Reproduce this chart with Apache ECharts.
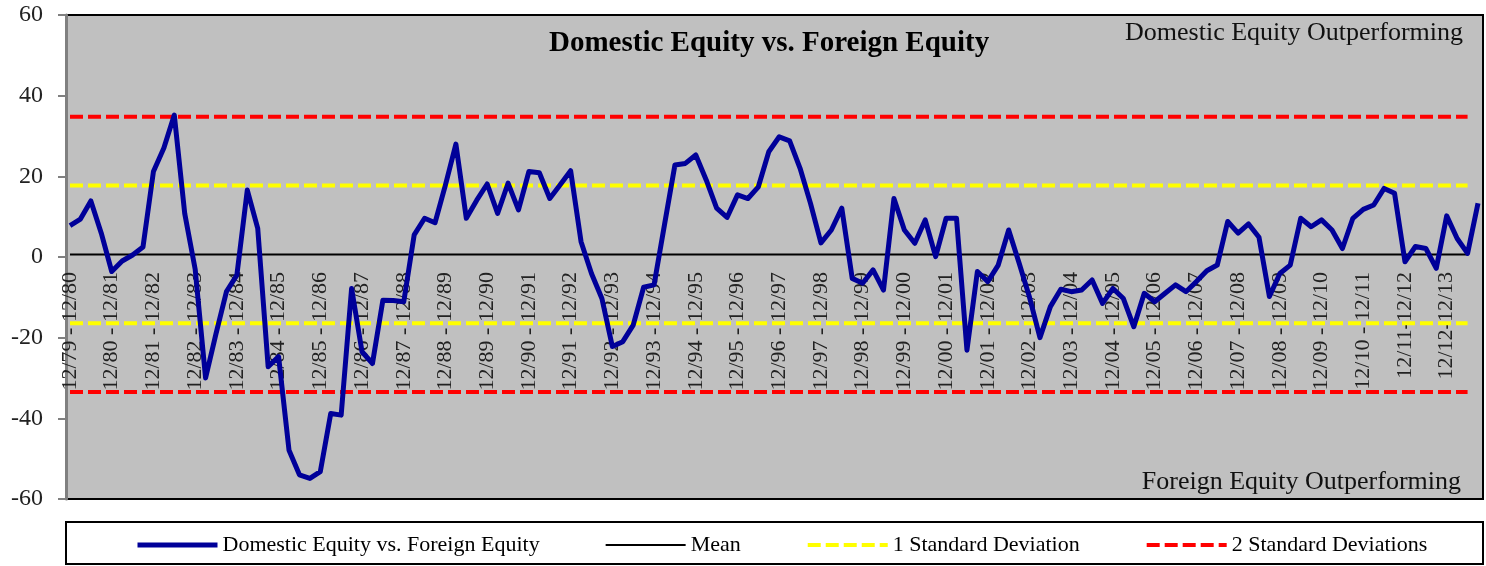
<!DOCTYPE html>
<html>
<head>
<meta charset="utf-8">
<script src="https://cdn.jsdelivr.net/npm/echarts@6/dist/echarts.min.js"></script>
<style>
  html, body { margin: 0; padding: 0; background: #fff; }
  #chart { width: 1486px; height: 566px; }
</style>
</head>
<body>
<div id="chart"></div>
<script>
  // rolling 12-month periods, one label per year (4 quarterly points each)
  const periodLabels = [
    '12/79 - 12/80', '12/80 - 12/81', '12/81 - 12/82', '12/82 - 12/83', '12/83 - 12/84',
    '12/84 - 12/85', '12/85 - 12/86', '12/86 - 12/87', '12/87 - 12/88', '12/88 - 12/89',
    '12/89 - 12/90', '12/90 - 12/91', '12/91 - 12/92', '12/92 - 12/93', '12/93 - 12/94',
    '12/94 - 12/95', '12/95 - 12/96', '12/96 - 12/97', '12/97 - 12/98', '12/98 - 12/99',
    '12/99 - 12/00', '12/00 - 12/01', '12/01 - 12/02', '12/02 - 12/03', '12/03 - 12/04',
    '12/04 - 12/05', '12/05 - 12/06', '12/06 - 12/07', '12/07 - 12/08', '12/08 - 12/09',
    '12/09 - 12/10', '12/10 - 12/11', '12/11-12/12', '12/12-12/13'
  ]

  // domestic minus foreign equity return, quarterly
  const relativeReturn = [
    7.8, 9.4, 13.9, 5.9, -3.6, -1, 0.5, 2.5, 21.2, 27,
    35.2, 10.8, -3, -30, -19, -8.6, -4.5, 16.6, 7.1, -27.2,
    -24.7, -47.9, -54, -54.9, -53.2, -38.8, -39.2, -7.8, -23.5, -26.4,
    -10.7, -10.8, -11.1, 5.5, 9.6, 8.5, 17.9, 28, 9.6, 14.1,
    18.1, 10.8, 18.3, 11.7, 21.2, 20.9, 14.5, 17.9, 21.4, 3.8,
    -4.1, -10.3, -22.2, -21, -16.9, -7.5, -6.9, 8, 22.8, 23.2,
    25.3, 19.1, 12.1, 9.8, 15.4, 14.5, 17.4, 26.1, 29.8, 28.8,
    22, 13.3, 3.5, 6.7, 12.1, -5.3, -6.5, -3.2, -8.2, 14.5,
    6.7, 3.4, 9.2, 0.1, 9.6, 9.6, -23.1, -3.6, -6.1, -2,
    6.7, -1.5, -10, -20, -12.3, -8, -8.6, -8.2, -5.7, -11.5,
    -7.8, -10.3, -17.3, -9, -11.1, -9, -6.9, -8.6, -6.1, -3.4,
    -2, 8.8, 5.9, 8.2, 4.9, -9.8, -4.1, -2, 9.6, 7.5,
    9.2, 6.7, 2.1, 9.6, 11.8, 12.9, 17, 15.8, -1.2, 2.6,
    2.1, -2.8, 10.2, 4.6, 0.9, 13.3
  ]

  // reference levels
  const meanLevel = 0.65
  const sd1Levels = [17.7, -16.4]
  const sd2Levels = [34.75, -33.45]
  const yTicks = { min: -60, max: 60, interval: 20 }

  const categories = periodLabels.flatMap((p) => [p, p + ' Q2', p + ' Q3', p + ' Q4'])
  // reference lines stop one quarter short of the last point
  const refCats = categories.slice(0, categories.length - 1)
  const flat = (v) => refCats.map(() => v)

  const serif = 'Liberation Serif'
  const chart = echarts.init(document.getElementById('chart'))

  const dashed = (name, color, v) => ({
    name: name,
    type: 'line',
    symbol: 'none',
    silent: true,
    lineStyle: { color: color, width: 4, type: [13, 5] },
    itemStyle: { color: color },
    data: flat(v),
    z: 3
  })

  const option = {
    animation: false,
    backgroundColor: '#fff',
    title: {
      text: 'Domestic Equity vs. Foreign Equity',
      left: 549,
      top: 29,
      padding: 0,
      textStyle: { fontFamily: serif, fontSize: 29, fontWeight: 'bold', color: '#000' }
    },
    graphic: [
      {
        type: 'rect',
        z: -10,
        shape: { x: 66, y: 15, width: 1417, height: 484 },
        style: { fill: '#C0C0C0', stroke: '#000', lineWidth: 2 }
      },
      {
        type: 'rect',
        z: -10,
        shape: { x: 66, y: 522, width: 1417, height: 42 },
        style: { fill: '#fff', stroke: '#000', lineWidth: 2 }
      },
      {
        type: 'text',
        x: 1463,
        y: 33,
        style: {
          text: 'Domestic Equity Outperforming',
          align: 'right', verticalAlign: 'middle',
          font: '26px "Liberation Serif"', fill: '#111'
        }
      },
      {
        type: 'text',
        x: 1461,
        y: 482,
        style: {
          text: 'Foreign Equity Outperforming',
          align: 'right', verticalAlign: 'middle',
          font: '26px "Liberation Serif"', fill: '#111'
        }
      }
    ],
    legend: {
      left: 130,
      top: 529,
      itemWidth: 80,
      itemHeight: 14,
      itemGap: 65,
      data: ['Domestic Equity vs. Foreign Equity', 'Mean', '1 Standard Deviation', '2 Standard Deviations'],
      itemStyle: { opacity: 0 },
      lineStyle: { width: 'inherit' },
      textStyle: { fontFamily: serif, fontSize: 22, color: '#000' }
    },
    grid: { left: 70, right: 8, top: 15, bottom: 67, containLabel: false, outerBoundsMode: 'none' },
    xAxis: {
      type: 'category',
      data: categories,
      boundaryGap: false,
      // labels sit just under the zero line, inside the plot
      offset: -242,
      axisLine: { show: false, onZero: false },
      axisTick: { show: false },
      axisLabel: {
        rotate: 90,
        interval: 3,
        margin: 15,
        fontFamily: serif,
        fontSize: 22,
        color: '#222'
      }
    },
    yAxis: {
      type: 'value',
      min: yTicks.min,
      max: yTicks.max,
      interval: yTicks.interval,
      offset: 4,
      axisLine: { show: true, lineStyle: { color: '#808080', width: 3 } },
      axisTick: { show: true, length: 8, lineStyle: { color: '#808080', width: 2 } },
      splitLine: { show: false },
      axisLabel: { margin: 23, fontFamily: serif, fontSize: 24, color: '#222' }
    },
    series: [
      dashed('2 Standard Deviations', '#FF0000', sd2Levels[0]),
      dashed('2 Standard Deviations', '#FF0000', sd2Levels[1]),
      dashed('1 Standard Deviation', '#FFFF00', sd1Levels[0]),
      dashed('1 Standard Deviation', '#FFFF00', sd1Levels[1]),
      {
        name: 'Mean',
        type: 'line',
        symbol: 'none',
        silent: true,
        lineStyle: { color: '#000', width: 2 },
        itemStyle: { color: '#000' },
        data: flat(meanLevel),
        z: 3
      },
      {
        name: 'Domestic Equity vs. Foreign Equity',
        type: 'line',
        symbol: 'none',
        lineStyle: { color: '#000099', width: 5, join: 'round' },
        itemStyle: { color: '#000099' },
        data: relativeReturn,
        z: 4
      }
    ]
  }

  chart.setOption(option)
</script>
</body>
</html>
